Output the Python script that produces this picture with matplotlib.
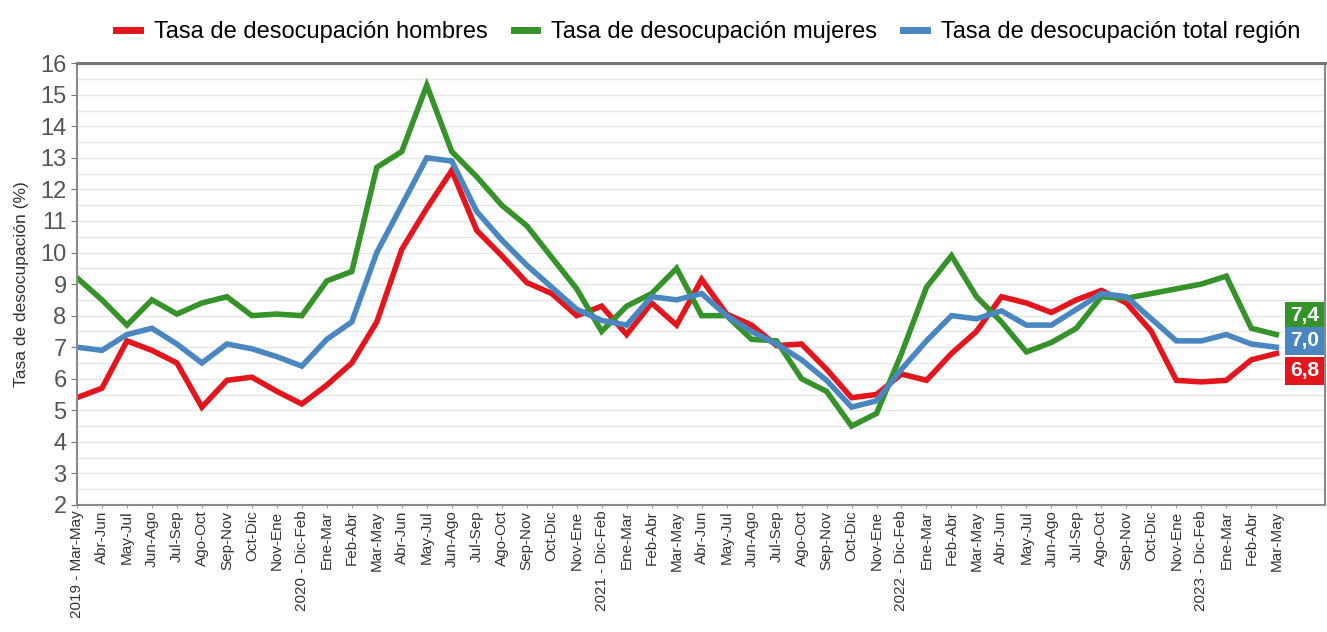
import matplotlib.pyplot as plt
import numpy as np
from matplotlib.ticker import MultipleLocator

plt.rcParams['font.family'] = ['Liberation Sans', 'DejaVu Sans']

periods = [
    '2019 - Mar-May', 'Abr-Jun', 'May-Jul', 'Jun-Ago', 'Jul-Sep', 'Ago-Oct', 'Sep-Nov', 'Oct-Dic', 'Nov-Ene',
    '2020 - Dic-Feb', 'Ene-Mar', 'Feb-Abr', 'Mar-May', 'Abr-Jun', 'May-Jul', 'Jun-Ago', 'Jul-Sep', 'Ago-Oct',
    'Sep-Nov', 'Oct-Dic', 'Nov-Ene',
    '2021 - Dic-Feb', 'Ene-Mar', 'Feb-Abr', 'Mar-May', 'Abr-Jun', 'May-Jul', 'Jun-Ago', 'Jul-Sep', 'Ago-Oct',
    'Sep-Nov', 'Oct-Dic', 'Nov-Ene',
    '2022 - Dic-Feb', 'Ene-Mar', 'Feb-Abr', 'Mar-May', 'Abr-Jun', 'May-Jul', 'Jun-Ago', 'Jul-Sep', 'Ago-Oct',
    'Sep-Nov', 'Oct-Dic', 'Nov-Ene',
    '2023 - Dic-Feb', 'Ene-Mar', 'Feb-Abr', 'Mar-May',
]

hombres = [
    5.4, 5.7, 7.2, 6.9, 6.5, 5.1, 5.95, 6.05, 5.6, 5.2, 5.8, 6.5, 7.8, 10.1, 11.4, 12.6,
    10.7, 9.9, 9.05, 8.7, 8.0, 8.3, 7.4, 8.4, 7.7, 9.15, 8.05, 7.7, 7.05, 7.1, 6.3, 5.4,
    5.5, 6.15, 5.95, 6.8, 7.5, 8.6, 8.4, 8.1, 8.5, 8.8, 8.4, 7.5, 5.95, 5.9, 5.95, 6.6, 6.8,
]
mujeres = [
    9.2, 8.5, 7.7, 8.5, 8.05, 8.4, 8.6, 8.0, 8.05, 8.0, 9.1, 9.4, 12.7, 13.2, 15.3, 13.2,
    12.4, 11.5, 10.85, 9.85, 8.85, 7.5, 8.3, 8.7, 9.5, 8.0, 8.0, 7.25, 7.2, 6.0, 5.6, 4.5,
    4.9, 6.8, 8.9, 9.9, 8.6, 7.8, 6.85, 7.15, 7.6, 8.6, 8.55, 8.7, 8.85, 9.0, 9.25, 7.6, 7.4,
]
total = [
    7.0, 6.9, 7.4, 7.6, 7.1, 6.5, 7.1, 6.95, 6.7, 6.4, 7.25, 7.8, 10.0, 11.5, 13.0, 12.9,
    11.3, 10.4, 9.6, 8.9, 8.2, 7.85, 7.7, 8.6, 8.5, 8.7, 8.0, 7.5, 7.1, 6.6, 5.95, 5.1,
    5.3, 6.3, 7.2, 8.0, 7.9, 8.15, 7.7, 7.7, 8.2, 8.7, 8.6, 7.9, 7.2, 7.2, 7.4, 7.1, 7.0,
]
end_labels = ['6,8', '7,4', '7,0']

series = [
    ('Tasa de desocupación hombres', hombres, '#e3161d'),
    ('Tasa de desocupación mujeres', mujeres, '#35932a'),
    ('Tasa de desocupación total región', total, '#4a87c1'),
]
label_shift = [-0.55, 0.6, 0.2]

fig = plt.figure(figsize=(13.27, 6.32), dpi=100)
ax = fig.add_axes([0.058, 0.201, 0.9405, 0.699])

x = np.arange(len(periods))
for name, vals, col in series:
    ax.plot(x, vals, color=col, lw=4, label=name, solid_joinstyle='miter')

for (name, vals, col), txt, dy in zip(series, end_labels, label_shift):
    ax.text(48.55, vals[-1] + dy, txt, color='white', fontsize=15, fontweight='bold',
            ha='left', va='center', clip_on=False,
            bbox=dict(boxstyle='square,pad=0.22', fc=col, ec='none'))

ax.set_xlim(0, 49.95)
ax.set_ylim(2, 16)
ax.set_xticks(x)
ax.set_xticklabels(periods, rotation=90, fontsize=11, color='#333333')
ax.yaxis.set_major_locator(MultipleLocator(1))
ax.yaxis.set_minor_locator(MultipleLocator(0.5))
ax.tick_params(axis='y', labelsize=17, labelcolor='#555555', length=4, color='#777777')
ax.tick_params(axis='y', which='minor', length=0)
ax.tick_params(axis='x', length=2, color='#999999', pad=2)
ax.grid(axis='y', which='both', color='#e6e6e6', lw=1)
ax.set_axisbelow(True)

for side in ['top', 'right', 'bottom', 'left']:
    ax.spines[side].set_color('#8a8a8a')
    ax.spines[side].set_linewidth(1.5)
ax.spines['top'].set_linewidth(2.2)
ax.spines['top'].set_color('#777777')

ax.set_ylabel('Tasa de desocupación (%)', fontsize=12.5, color='#333333', labelpad=8)

leg = fig.legend(loc='upper right', bbox_to_anchor=(0.996, 1.0), ncol=3, frameon=False,
                 fontsize=17, handlelength=1.0, handletextpad=0.6, columnspacing=1.1)
for h in leg.get_lines():
    h.set_linewidth(5)

plt.savefig('out.png', dpi=100)
